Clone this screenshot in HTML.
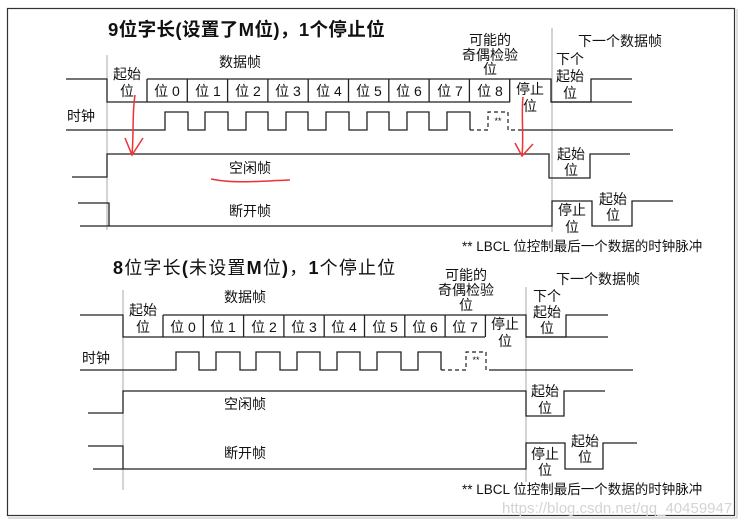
<!DOCTYPE html>
<html><head><meta charset="utf-8">
<style>
html,body{margin:0;padding:0;background:#fff;}
svg{display:block;}
text{font-family:"Liberation Sans","Noto Sans CJK SC",sans-serif;fill:#111;}
.t{font-size:14px;}
.c{text-anchor:middle;}
</style></head>
<body>
<svg width="755" height="525" viewBox="0 0 755 525" xmlns="http://www.w3.org/2000/svg">
<rect x="7.5" y="8.5" width="727" height="507" fill="none" stroke="#333" stroke-width="1.2"/>
<line x1="8" y1="518" x2="737" y2="518" stroke="#bbb" stroke-width="1"/>
<line x1="737" y1="9" x2="737" y2="518" stroke="#bbb" stroke-width="1"/>

<!-- ===== Diagram 1 ===== -->
<text x="108" y="36" style="font-size:18.5px;font-weight:bold;letter-spacing:0.4px">9位字长(设置了M位)，1个停止位</text>
<line x1="107" y1="55" x2="107" y2="230" stroke="#aaa" stroke-width="1"/>
<line x1="552" y1="28" x2="552" y2="232" stroke="#aaa" stroke-width="1"/>
<g fill="none" stroke="#222" stroke-width="1.3">
<path d="M66,79 H107 V102 H510"/>
<path d="M147,79 H551 V102 H591 V79 H632"/>
<path d="M551,102 H632"/>
<path d="M147,79V102M187.3,79V102M227.6,79V102M267.9,79V102M308.2,79V102M348.5,79V102M388.8,79V102M429.1,79V102M469.4,79V102M509.7,79V102"/>
<path d="M66,130 H165 V112 H188 V130 H205 V112 H228 V130 H246 V112 H268 V130 H286 V112 H308 V130 H326 V112 H349 V130 H367 V112 H389 V130 H407 V112 H429 V130 H447 V112 H470 V130"/>
<path d="M520,130 H673"/>
<path d="M72,177 H107 V154 H549 V178 H590 V154 H630"/>
<path d="M78,203 H109 V226 H80 M109,226 H552 V201 H592 V226 H632 V201 H673"/>
</g>
<path d="M470,130 H488 V112 H508 V130 H520" fill="none" stroke="#222" stroke-width="1.2" stroke-dasharray="4,3"/>
<text x="498" y="124" style="font-size:9px" class="c">**</text>
<g class="t">
<text x="240" y="67" class="c">数据帧</text>
<text x="127" y="79" class="c">起始</text>
<text x="127" y="96" class="c">位</text>
<text x="167" y="96" class="c">位 0</text>
<text x="208" y="96" class="c">位 1</text>
<text x="248" y="96" class="c">位 2</text>
<text x="288" y="96" class="c">位 3</text>
<text x="329" y="96" class="c">位 4</text>
<text x="369" y="96" class="c">位 5</text>
<text x="409" y="96" class="c">位 6</text>
<text x="450" y="96" class="c">位 7</text>
<text x="490" y="96" class="c">位 8</text>
<text x="530" y="94" class="c">停止</text>
<text x="530" y="111" class="c">位</text>
<text x="490" y="45" class="c">可能的</text>
<text x="490" y="60" class="c">奇偶检验</text>
<text x="490" y="74" class="c">位</text>
<text x="620" y="46" class="c">下一个数据帧</text>
<text x="570" y="64" class="c">下个</text>
<text x="570" y="81" class="c">起始</text>
<text x="570" y="98" class="c">位</text>
<text x="81" y="121" class="c">时钟</text>
<text x="250" y="173" class="c">空闲帧</text>
<text x="571" y="159" class="c">起始</text>
<text x="571" y="175" class="c">位</text>
<text x="250" y="216" class="c">断开帧</text>
<text x="572" y="215" class="c">停止</text>
<text x="572" y="232" class="c">位</text>
<text x="613" y="204" class="c">起始</text>
<text x="613" y="220" class="c">位</text>
<text x="462" y="251" style="font-size:13.5px">** LBCL 位控制最后一个数据的时钟脉冲</text>
</g>
<g fill="none" stroke="#e33" stroke-width="1.5">
<path d="M135,95 C132,115 134,130 132,155"/>
<path d="M125,138 L132,155 L143,138"/>
<path d="M523,97 C521,115 524,135 522,156"/>
<path d="M515,143 L522,156 L533,144"/>
<path d="M211,179 C235,184 260,181 290,180"/>
</g>

<!-- ===== Diagram 2 ===== -->
<text x="113" y="274" style="font-size:18px;letter-spacing:1.2px"><tspan font-weight="bold">8</tspan>位字长<tspan font-weight="bold">(</tspan>未设置<tspan font-weight="bold">M</tspan>位<tspan font-weight="bold">)</tspan>，<tspan font-weight="bold">1</tspan>个停止位</text>
<line x1="123" y1="290" x2="123" y2="490" stroke="#aaa" stroke-width="1"/>
<line x1="526" y1="287" x2="526" y2="482" stroke="#aaa" stroke-width="1"/>
<g fill="none" stroke="#222" stroke-width="1.3">
<path d="M80,315 H123 V337 H485"/>
<path d="M163,315 H526 V337 H566 V315 H608"/>
<path d="M526,337 H608"/>
<path d="M163,315V337M203.3,315V337M243.6,315V337M283.9,315V337M324.2,315V337M364.5,315V337M404.8,315V337M445.1,315V337M485.4,315V337"/>
<path d="M80,370 H176 V352 H199 V370 H216 V352 H240 V370 H256 V352 H280 V370 H297 V352 H320 V370 H337 V352 H360 V370 H377 V352 H401 V370 H418 V352 H441 V370"/>
<path d="M490,370 H633"/>
<path d="M88,413 H123 V391 H526 V416 H564 V391 H605"/>
<path d="M88,446 H123 V469 H93 M123,469 H526 V443 H565 V469 H603 V443 H637"/>
</g>
<path d="M441,370 H466 V352 H486 V370 H490" fill="none" stroke="#222" stroke-width="1.2" stroke-dasharray="4,3"/>
<text x="476" y="363" style="font-size:9px" class="c">**</text>
<g class="t">
<text x="245" y="302" class="c">数据帧</text>
<text x="143" y="315" class="c">起始</text>
<text x="143" y="332" class="c">位</text>
<text x="183" y="332" class="c">位 0</text>
<text x="223" y="332" class="c">位 1</text>
<text x="264" y="332" class="c">位 2</text>
<text x="304" y="332" class="c">位 3</text>
<text x="344" y="332" class="c">位 4</text>
<text x="385" y="332" class="c">位 5</text>
<text x="425" y="332" class="c">位 6</text>
<text x="465" y="332" class="c">位 7</text>
<text x="505" y="329" class="c">停止</text>
<text x="505" y="346" class="c">位</text>
<text x="466" y="280" class="c">可能的</text>
<text x="466" y="295" class="c">奇偶检验</text>
<text x="466" y="310" class="c">位</text>
<text x="598" y="284" class="c">下一个数据帧</text>
<text x="547" y="301" class="c">下个</text>
<text x="547" y="317" class="c">起始</text>
<text x="547" y="333" class="c">位</text>
<text x="96" y="363" class="c">时钟</text>
<text x="245" y="409" class="c">空闲帧</text>
<text x="545" y="396" class="c">起始</text>
<text x="545" y="413" class="c">位</text>
<text x="245" y="458" class="c">断开帧</text>
<text x="545" y="459" class="c">停止</text>
<text x="545" y="475" class="c">位</text>
<text x="585" y="446" class="c">起始</text>
<text x="585" y="462" class="c">位</text>
<text x="462" y="494" style="font-size:13.5px">** LBCL 位控制最后一个数据的时钟脉冲</text>
</g>
<text x="502" y="513" style="font-size:15px;fill:#d4d4d4">https://blog.csdn.net/qq_40459947</text>
</svg>
</body></html>
